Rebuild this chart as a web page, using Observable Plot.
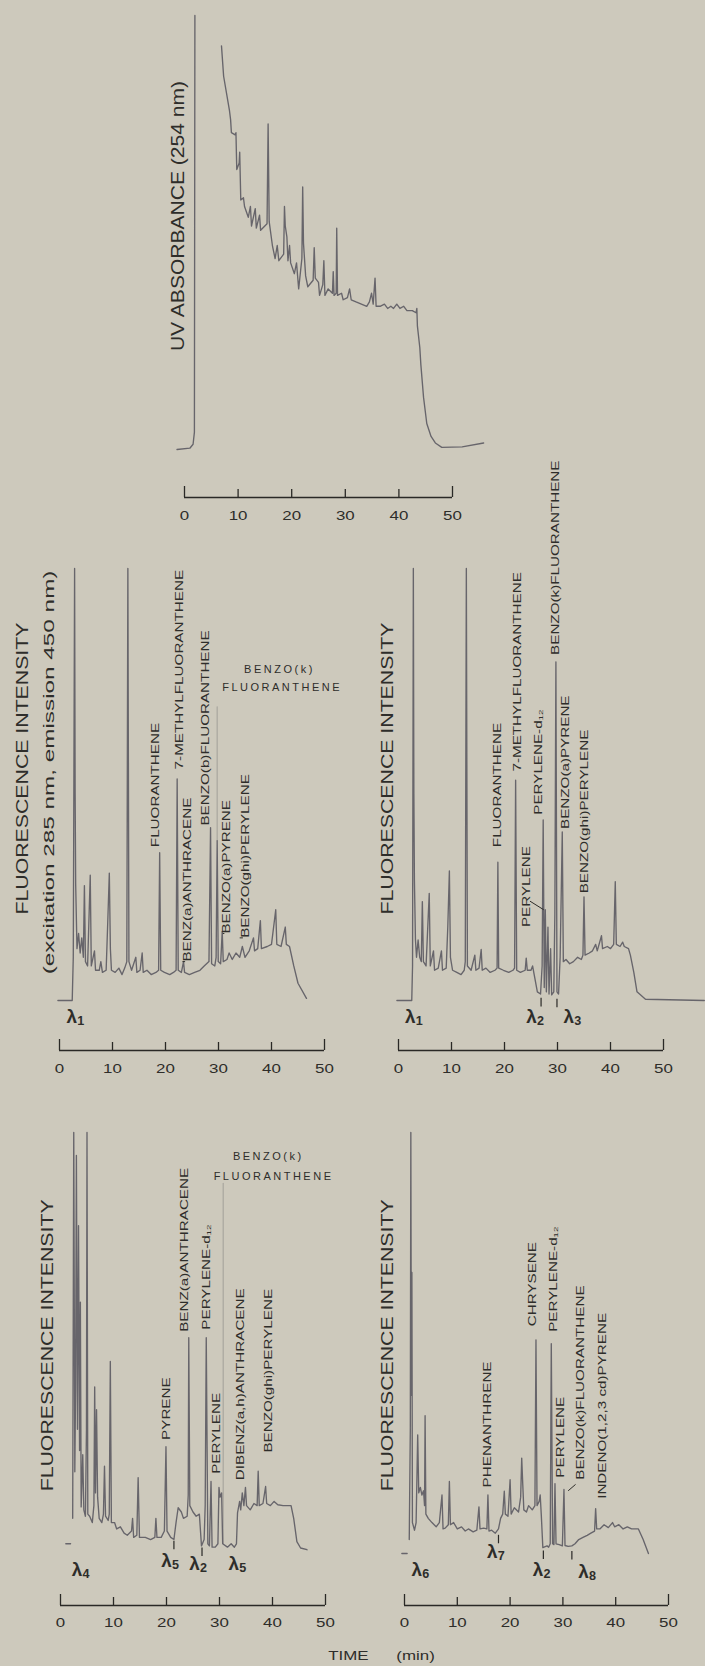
<!DOCTYPE html>
<html>
<head>
<meta charset="utf-8">
<script src="https://cdn.jsdelivr.net/npm/d3@7"></script>
<script src="https://cdn.jsdelivr.net/npm/@observablehq/plot@0.6"></script>
<style>
  html, body { margin: 0; padding: 0; background: #cdc9bc; }
  #page { position: relative; width: 705px; height: 1666px; overflow: hidden; background: #cdc9bc; }
  #page svg { position: absolute; left: 0; top: 0; }
</style>
</head>
<body>
<div id="page"></div>
<script>
// ---------------- DATA (retention time in min, signal in % of full scale) ----------------
const timeTicks = [0, 10, 20, 30, 40, 50];

const uvTrace = [
  [-1.4,0],[1.0,0.3],[1.6,1.2],[1.85,4],[1.94,100],[2.0,NaN],
  [6.9,93],[7.3,86],[8.4,78],[8.6,76],[8.75,73],[9.45,72.5],[9.6,73],[9.75,64.5],[10.2,66],[10.3,68.5],
  [10.5,57.5],[11.0,58],[11.2,56],[11.9,53.5],[12.3,56],[12.5,51.5],[13.2,55.5],[13.4,51],[14.0,54],[14.2,50.5],
  [15.4,52],[15.6,75],[15.8,52.5],[16.4,47],[16.9,44],[17.3,47],[17.6,43.5],[18.5,45],[18.65,56],[18.8,51.5],
  [19.1,49],[19.3,43.5],[19.6,47],[19.8,43],[20.5,40.5],[20.9,43],[21.3,37],[21.9,44],[22.05,60.5],[22.2,47.5],
  [22.6,40],[23.0,37.5],[24.0,39],[24.2,46.5],[24.4,39.5],[25.0,38.5],[25.2,35.5],[25.8,38],[26.0,43.5],[26.2,35.5],
  [26.8,37],[27.6,36],[27.75,41],[27.9,35.5],[28.3,36],[28.4,51],[28.55,35.5],[29.3,36],[29.6,34.5],[30.4,35],
  [30.8,37],[31.1,34.5],[32,34],[33,33.5],[34.0,33],[34.5,34],[34.9,36],[35.2,33.5],[35.55,39.5],[35.75,33],
  [36.5,33],[37.3,33.5],[37.9,32.5],[38.5,33],[39.0,32.5],[39.6,33.5],[40.2,32.5],[40.9,33],[41.5,32],[42.5,32],
  [43.2,31.5],[43.35,32.5],[43.45,28.5],[43.9,23.5],[44.1,19.5],[44.6,12],[45.2,6],[46.0,3],[46.8,1.5],[48.0,0.5],
  [51.8,0.6],[55.8,1.5]
];

const midLeftTrace = [
  [-0.3,0],[2.4,0],[2.6,10],[2.85,100],[2.95,48],[3.05,27],[3.3,12],[3.6,15.5],[3.9,11],[4.2,14.5],[4.5,10],
  [4.7,26.6],[4.9,9],[5.3,8],[5.8,29],[6.0,8],[6.6,11.5],[6.8,7],[7.5,7],[7.8,9],[8.1,6.5],[8.8,7],[9.1,18],
  [9.4,29.5],[9.6,12],[9.8,7],[10.5,6.5],[11.2,7.5],[11.8,6],[12.3,7.5],[12.7,9],[12.9,100],[13.1,9],[13.6,7],
  [14.4,10],[14.6,6.5],[15.2,7],[15.6,11],[15.8,6.5],[16.5,7],[17.3,6],[18.2,6.5],[18.7,7],[18.9,34.2],[19.1,7],
  [19.8,6.5],[20.8,6],[21.5,6.5],[22.0,7],[22.2,51.3],[22.4,7],[23.0,6.5],[23.4,9],[23.6,6.5],[24.5,6],[25.5,6.5],
  [26.5,7],[27.3,8],[28.2,9],[28.5,40],[28.7,8.5],[29.3,8],[29.55,10],[29.75,37],[29.95,9],[30.4,8.5],[30.7,16],
  [30.9,9],[31.6,9.5],[32.0,11],[32.6,9.5],[33.3,11],[34.0,10],[34.5,12.5],[35.0,10],[35.8,11.5],[36.6,14.5],
  [36.8,11.5],[37.4,12],[37.9,18.5],[38.1,12],[39.2,12.5],[40.0,13],[40.8,21],[41.0,13],[41.8,12.5],[42.6,17],
  [42.8,13],[43.4,12.5],[44.2,8],[45.0,4],[46.6,0.5]
];
const midLeftFaint = [[29.75,37],[29.75,68]];

const midRightTrace = [
  [-0.3,0],[2.5,0],[2.65,8],[2.8,100],[2.9,48],[3.0,28],[3.2,14],[3.4,10],[3.7,14],[4.0,10],[4.3,9],[4.5,22.9],
  [4.7,9],[5.2,8],[5.8,24.8],[6.0,8],[6.6,11.5],[6.8,7],[7.5,7.5],[8.1,11.5],[8.3,7],[9.0,7.5],[9.3,17],[9.6,30],
  [9.8,10],[10.2,7],[11,6.5],[11.8,6],[12.4,7],[12.6,9],[12.8,100],[13.0,8],[13.7,7],[14.4,10.5],[14.6,7],
  [15.2,7.5],[15.6,11.8],[15.8,7],[16.5,7.5],[17.3,6.5],[18.2,7],[18.6,7.5],[18.75,32],[18.9,7.5],[19.8,7],
  [20.8,6.5],[21.6,7],[21.9,7.5],[22.1,51],[22.3,7],[23.0,6.5],[23.9,7],[24.1,9.8],[24.3,7],[25.0,7],[25.3,8],
  [25.6,6],[26.2,2],[26.8,1.5],[27.1,8],[27.3,41.8],[27.5,3],[27.7,21],[27.9,2],[28.2,17],[28.4,1.5],[28.7,12],
  [28.9,1.3],[29.3,2],[29.5,20],[29.7,78.4],[29.9,2],[30.2,1.5],[30.5,10],[30.9,39],[31.1,9],[31.6,9.5],[32.3,8.5],
  [33.0,9],[33.8,10],[34.5,9.5],[34.8,10.5],[35.0,24],[35.2,10.5],[36.0,11],[36.6,11.5],[37.2,13],[37.5,11.5],
  [38.3,15],[38.5,12],[39.4,12.5],[40.0,12],[40.6,13],[40.9,27.5],[41.1,13],[41.8,12.5],[42.3,13.5],[42.6,12.5],
  [43.4,12],[43.75,10.5],[44.4,6.5],[45.0,2],[46.6,0.3],[57.7,0]
];

const bottomLeftTrace = [
  [1.0,3],[1.9,3],[2.0,NaN],
  [2.3,9],[2.5,100],[2.7,20],[2.85,40],[3.0,94.6],[3.2,30],[3.4,78],[3.6,25],[3.75,60],[3.9,11.7],[4.2,24],
  [4.4,11],[4.7,9.5],[4.9,30],[5.0,100],[5.15,10],[5.5,9.5],[6.0,8],[6.3,12],[6.45,40],[6.6,15],[6.8,34.6],
  [7.0,14],[7.3,9],[7.8,8],[8.1,10],[8.3,21.3],[8.5,9.5],[9.0,8.5],[9.2,10],[9.4,46],[9.6,8],[10.2,8],[10.6,6.5],
  [11.3,7],[12,5.5],[12.6,5],[13.4,6],[13.6,9],[13.8,4.5],[14.4,5],[14.65,18.6],[14.9,4.5],[16,4.5],[17,4],
  [17.8,4.5],[18,9],[18.2,4.5],[19,4.5],[19.6,6],[19.9,25.9],[20.1,6],[20.8,4.5],[21.4,4],[21.8,8],[22.2,11.5],
  [22.8,10.5],[23.2,9],[23.9,9.5],[24.1,14.5],[24.2,51.6],[24.4,12],[25,10.5],[25.6,9.5],[26.2,10],[26.6,2.5],
  [27.1,4],[27.3,12],[27.5,51.6],[27.8,3],[28.1,2.5],[28.4,17.7],[28.6,2.2],[29.2,2.2],[29.7,3],[29.9,16.3],
  [30.1,14],[30.4,15],[30.6,3],[31.5,2.2],[32.2,3],[32.8,2.2],[33.2,3],[33.4,10.3],[33.8,13],[34.0,11],[34.3,15],
  [34.6,12],[34.9,16.3],[35.1,12],[35.8,11],[36.5,12.5],[37.1,12],[37.3,20.1],[37.5,12],[38.2,12.5],[38.7,16.5],
  [38.9,12.5],[39.6,12],[40.3,13],[41,12.2],[42,12],[43.5,12],[44.0,9],[44.6,3.5],[45.3,2],[46.5,1.6]
];
const bottomLeftFaint = [[30.7,3],[30.7,88]];

const bottomRightTrace = [
  [-0.5,0.7],[0.5,0.7],[0.6,NaN],
  [0.9,4],[1.1,30],[1.2,100],[1.3,38],[1.4,67],[1.5,8],[1.9,6.2],[2.2,8],[2.5,28.7],[2.7,15],[3.0,16.3],[3.3,14.5],
  [3.6,15.5],[3.8,12],[3.9,33.2],[4.05,10],[4.5,9],[5.2,8],[6.0,7],[6.6,8],[7.1,14.5],[7.3,6.5],[7.7,6.7],[8.3,7.5],
  [8.5,17.7],[8.7,7.5],[9.3,8],[10.0,6.5],[10.8,7],[11.5,6],[12.1,6.5],[13.0,5.8],[13.7,6.2],[14.1,11.7],[14.3,6.5],
  [15.0,6.7],[15.6,6.5],[15.8,14.5],[16.0,6],[16.5,6.2],[17.2,5.5],[17.8,6.5],[18.2,9],[18.6,10],[18.9,15.4],
  [19.1,10],[19.6,9.5],[20.0,18.1],[20.2,10],[20.8,11.5],[21.6,10.5],[22.0,14],[22.2,23.2],[22.4,17],[22.6,11],
  [23.1,10.5],[23.5,12],[24.2,11],[24.7,12],[24.9,51.1],[25.1,12],[25.5,13],[25.7,14.5],[25.9,10],[26.2,2.1],
  [27.0,2.5],[27.3,2.2],[27.6,3],[27.8,50.2],[28.05,3],[28.3,2.8],[28.5,17.2],[28.7,3],[29.3,2.8],[29.9,2.5],
  [30.2,15.8],[30.4,2.6],[31,2.4],[31.7,2.5],[32.3,3],[33.0,4],[33.8,4.5],[34.6,5],[35.3,5.5],[36.0,6],[36.2,11.3],
  [36.4,6.5],[37.0,6.5],[37.8,7.5],[38.6,6.8],[39.4,8],[39.8,7],[40.6,7.5],[41.4,6.5],[42.2,7],[43,6.5],[44.3,6.5],
  [45.2,4],[46.2,0.7]
];

const midLeftNames = [
  {name: "FLUORANTHENE", t: 18.2, v: 35.5},
  {name: "7-METHYLFLUORANTHENE", t: 22.7, v: 53.5},
  {name: "BENZ(a)ANTHRACENE", t: 24.2, v: 9},
  {name: "BENZO(b)FLUORANTHENE", t: 27.6, v: 40.5},
  {name: "BENZO(a)PYRENE", t: 31.6, v: 15.5},
  {name: "BENZO(ghi)PERYLENE", t: 35.1, v: 14.5}
];
const midLeftBenzoK = [
  {name: "BENZO(k)", t: 41.5, v: 76.6},
  {name: "FLUORANTHENE", t: 42.0, v: 72.5}
];
const midLeftLeaders = [
  {t1: 23.2, v1: 9, t2: 23.7, v2: 9},
  {t1: 30.8, v1: 15.5, t2: 31.1, v2: 15.5},
  {t1: 34.0, v1: 14.5, t2: 34.6, v2: 14.5}
];
const midLeftLambdas = [{sub: "1", t: 2.3, v: -3.8}];

const midRightNames = [
  {name: "FLUORANTHENE", t: 18.7, v: 35.5},
  {name: "7-METHYLFLUORANTHENE", t: 22.5, v: 53},
  {name: "PERYLENE", t: 24.1, v: 17},
  {name: "PERYLENE-d₁₂", t: 26.5, v: 43},
  {name: "BENZO(k)FLUORANTHENE", t: 29.7, v: 80},
  {name: "BENZO(a)PYRENE", t: 31.6, v: 39.7},
  {name: "BENZO(ghi)PERYLENE", t: 35.1, v: 24.8}
];
const midRightLeaders = [{t1: 24.8, v1: 23, t2: 27.4, v2: 21}];
const midRightLambdas = [
  {sub: "1", t: 2.2, v: -3.8},
  {sub: "2", t: 25.1, v: -3.8},
  {sub: "3", t: 32.1, v: -3.8}
];
const midRightSwitches = [{t: 26.9, v: 0.5}, {t: 29.9, v: 0.3}];

const bottomLeftNames = [
  {name: "PYRENE", t: 20.1, v: 27.5},
  {name: "BENZ(a)ANTHRACENE", t: 23.5, v: 53},
  {name: "PERYLENE-d₁₂", t: 27.6, v: 53.5},
  {name: "PERYLENE", t: 29.4, v: 19.5},
  {name: "DIBENZ(a,h)ANTHRACENE", t: 34.0, v: 18},
  {name: "BENZO(ghi)PERYLENE", t: 39.3, v: 24.5}
];
const bottomLeftBenzoK = [
  {name: "BENZO(k)", t: 39.2, v: 94.3},
  {name: "FLUORANTHENE", t: 40.2, v: 89.6}
];
const bottomLeftLambdas = [
  {sub: "4", t: 3.1, v: -3.2},
  {sub: "5", t: 20.0, v: -1},
  {sub: "2", t: 25.3, v: -1.8},
  {sub: "5", t: 32.7, v: -1.8}
];
const bottomLeftSwitches = [{t: 21.4, v: 3.6}, {t: 26.7, v: 2}];

const bottomRightNames = [
  {name: "PHENANTHRENE", t: 15.8, v: 16.3},
  {name: "CHRYSENE", t: 24.2, v: 54.3},
  {name: "PERYLENE-d₁₂", t: 28.2, v: 53},
  {name: "PERYLENE", t: 29.5, v: 18.6},
  {name: "BENZO(k)FLUORANTHENE", t: 33.3, v: 18.1},
  {name: "INDENO(1,2,3 cd)PYRENE", t: 37.5, v: 13.6}
];
const bottomRightLeaders = [{t1: 31.0, v1: 15.5, t2: 32.4, v2: 17}];
const bottomRightLambdas = [
  {sub: "6", t: 2.3, v: -3.2},
  {sub: "7", t: 16.6, v: 1},
  {sub: "2", t: 25.3, v: -3.2},
  {sub: "8", t: 33.9, v: -3.6}
];
const bottomRightSwitches = [{t: 17.8, v: 5}, {t: 26.3, v: 1.3}, {t: 31.7, v: 1.2}];

const uvTitle = "UV ABSORBANCE (254 nm)";
const fluorTitle = "FLUORESCENCE INTENSITY";
const excitationTitle = "(excitation 285 nm, emission 450 nm)";
const timeTitle = ["TIME", "(min)"];

// ---------------- LAYOUT & STYLE ----------------
const FONT = "'Liberation Sans', Arial, Helvetica, sans-serif";
const INK = "#2e2d2a", AXIS = "#2a2926", TRACE = "#67656b", FAINT = "#a9a69f";
const STRETCH = {num: 1.3, name: 1.45, lam: 1.05, t18: 1.17, t16: 1.29, t15: 1.62};

const layout = {
  uv:          {x: [184, 452], y: [449, 15],    axisDy: 48, labelDy: 66},
  midLeft:     {x: [59, 324],  y: [1000, 568],  axisDy: 50, labelDy: 68},
  midRight:    {x: [398, 663], y: [1000, 568],  axisDy: 50, labelDy: 68},
  bottomLeft:  {x: [60, 325],  y: [1556, 1132], axisDy: 49, labelDy: 66},
  bottomRight: {x: [404, 668], y: [1556, 1132], axisDy: 49, labelDy: 66}
};

function panel(L, p) {
  const xy = {x: d => d[0], y: d => d[1]};
  const ends = [timeTicks[0], timeTicks[timeTicks.length - 1]];
  const marks = [
    Plot.ruleY([0], {x1: 0, x2: 50, dy: L.axisDy, stroke: AXIS, strokeWidth: 1.6}),
    Plot.ruleX(timeTicks.filter(d => !ends.includes(d)), {x: d => d, y1: 0, y2: 0, dy: L.axisDy, insetTop: -8,
      stroke: AXIS, strokeWidth: 1.3}),
    Plot.ruleX(ends, {x: d => d, y1: 0, y2: 0, dy: L.axisDy, insetTop: -11, stroke: AXIS, strokeWidth: 1.3}),
    Plot.text(timeTicks, {x: d => d, y: 0, dy: L.labelDy, text: d => `${d}`, fontSize: 13,
      fontFamily: FONT, fill: INK, ariaDescription: "num"})
  ];
  if (p.faint) marks.push(Plot.line(p.faint, {...xy, stroke: FAINT, strokeWidth: 1.2}));
  marks.push(Plot.line(p.trace, {...xy, stroke: TRACE, strokeWidth: 1.35, strokeLinejoin: "round"}));
  if (p.switches) marks.push(Plot.ruleX(p.switches, {x: "t", y1: "v", y2: d => d.v - 2, stroke: AXIS, strokeWidth: 1.2}));
  if (p.leaders) marks.push(Plot.link(p.leaders, {x1: "t1", y1: "v1", x2: "t2", y2: "v2", stroke: INK, strokeWidth: 1}));
  if (p.names) marks.push(Plot.text(p.names, {x: "t", y: "v", text: "name", rotate: -90, textAnchor: "start",
    fontSize: 10.5, fontFamily: FONT, fill: INK, ariaDescription: "name"}));
  if (p.hnames) marks.push(Plot.text(p.hnames, {x: "t", y: "v", text: "name", fontSize: 11,
    fontFamily: FONT, fill: INK, ariaDescription: "spaced"}));
  if (p.lambdas) {
    marks.push(Plot.text(p.lambdas, {x: "t", y: "v", text: () => "λ", fontSize: 18, fontWeight: "bold",
      fontFamily: FONT, fill: INK, ariaDescription: "lam"}));
    marks.push(Plot.text(p.lambdas, {x: "t", y: "v", text: "sub", dx: 9, dy: 4, fontSize: 12, fontWeight: "bold",
      fontFamily: FONT, fill: INK, ariaDescription: "lam"}));
  }
  for (const tt of p.titles || []) {
    marks.push(Plot.text([tt.text], {x: tt.t, y: tt.v, text: d => d, rotate: -90, fontSize: tt.size,
      fontFamily: FONT, fill: INK, ariaDescription: tt.tag}));
  }
  if (p.caption) {
    marks.push(Plot.text(p.caption.texts, {x: (d, i) => p.caption.ts[i], y: 0, dy: p.caption.dy, text: d => d,
      fontSize: 13, fontFamily: FONT, fill: INK, ariaDescription: "num"}));
  }
  const svg = Plot.plot({
    width: 705, height: 1666, margin: 0,
    style: "background: transparent; overflow: visible;",
    x: {domain: [0, 50], range: L.x, axis: null},
    y: {domain: [0, 100], range: L.y, axis: null},
    marks
  });
  for (const [tag, k] of Object.entries(STRETCH)) {
    svg.querySelectorAll(`g[aria-description="${tag}"] text`).forEach(el => {
      const tr = el.getAttribute("transform");
      if (tr) el.setAttribute("transform", `${tr} scale(${k},1)`);
    });
  }
  svg.querySelectorAll(`g[aria-description="spaced"]`).forEach(g => g.setAttribute("letter-spacing", "2.5"));
  document.getElementById("page").appendChild(svg);
}

panel(layout.uv, {
  trace: uvTrace,
  titles: [{text: uvTitle, t: -1.1, v: 53.8, size: 18, tag: "t18"}]
});
panel(layout.midLeft, {
  trace: midLeftTrace, faint: midLeftFaint, names: midLeftNames, hnames: midLeftBenzoK,
  leaders: midLeftLeaders, lambdas: midLeftLambdas,
  titles: [
    {text: fluorTitle, t: -7.0, v: 53.7, size: 16.5, tag: "t16"},
    {text: excitationTitle, t: -1.9, v: 52.8, size: 15, tag: "t15"}
  ]
});
panel(layout.midRight, {
  trace: midRightTrace, names: midRightNames, leaders: midRightLeaders,
  lambdas: midRightLambdas, switches: midRightSwitches,
  titles: [{text: fluorTitle, t: -2.0, v: 53.7, size: 16.5, tag: "t16"}]
});
panel(layout.bottomLeft, {
  trace: bottomLeftTrace, faint: bottomLeftFaint, names: bottomLeftNames, hnames: bottomLeftBenzoK,
  lambdas: bottomLeftLambdas, switches: bottomLeftSwitches,
  titles: [{text: fluorTitle, t: -2.4, v: 49.8, size: 16.5, tag: "t16"}],
  caption: {texts: timeTitle, ts: [54.3, 67], dy: 99}
});
panel(layout.bottomRight, {
  trace: bottomRightTrace, names: bottomRightNames, leaders: bottomRightLeaders,
  lambdas: bottomRightLambdas, switches: bottomRightSwitches,
  titles: [{text: fluorTitle, t: -3.1, v: 49.8, size: 16.5, tag: "t16"}]
});
</script>
</body>
</html>
